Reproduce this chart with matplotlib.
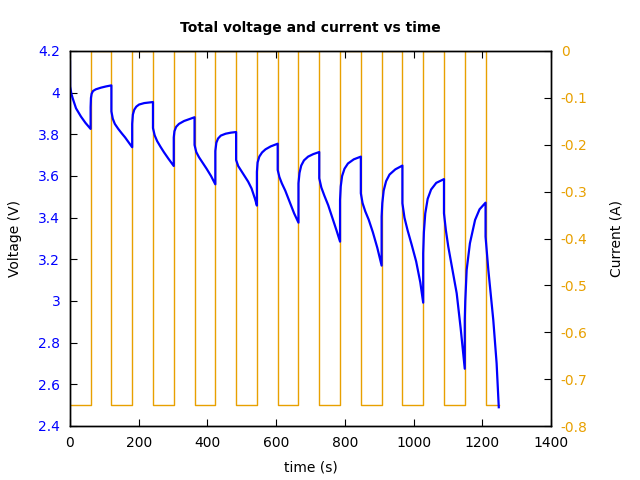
import matplotlib
matplotlib.use("Agg")
import matplotlib.pyplot as plt
from matplotlib.ticker import FuncFormatter

plt.rcParams['axes.unicode_minus'] = False
plt.rcParams['font.family'] = ['DejaVu Sans']

# Voltage (time s, volts)
volt_t = [0, 0.3, 4, 8, 17.5, 32, 45, 60,
          60, 61, 63, 67, 75, 90, 105, 120.5,
          120.5, 124.5, 130.5, 140.5, 150.5, 160.5, 170.5, 181,
          181, 183, 187, 193, 201, 216, 241.5,
          241.5, 246.5, 253.5, 263.5, 273.5, 286.5, 302,
          302, 304, 309, 317, 332, 347, 362.5,
          362.5, 367.5, 375.5, 387.5, 397.5, 410.5, 423,
          423, 426, 431, 439, 453, 468, 483.5,
          483.5, 489.5, 498.5, 508.5, 518.5, 528.5, 538.5, 544,
          544, 546, 551, 559, 569, 584, 604.5,
          604.5, 609.5, 616.5, 626.5, 639.5, 652.5, 665,
          665, 668, 673, 681, 693, 708, 725.5,
          725.5, 731.5, 740.5, 751.5, 763.5, 775.5, 786,
          786, 788, 792, 799, 809, 826, 846.5,
          846.5, 851.5, 859.5, 869.5, 881.5, 894.5, 907,
          907, 909, 913, 920, 930, 947, 967.5,
          967.5, 973.5, 982.5, 994.5, 1007.5, 1019.5, 1028,
          1028, 1030, 1034, 1041, 1051, 1066, 1088.5,
          1088.5, 1094, 1101, 1113, 1125.5, 1137, 1149,
          1149, 1150.5, 1154.5, 1164, 1179, 1192, 1209.5,
          1209.5, 1217.6, 1232, 1241.7, 1248]
volt_v = [4.15, 4.03, 3.995, 3.972, 3.925, 3.885, 3.855, 3.826,
          3.93, 3.975, 3.995, 4.008, 4.016, 4.024, 4.03, 4.035,
          3.91, 3.875, 3.85, 3.826, 3.805, 3.785, 3.762, 3.738,
          3.85, 3.895, 3.918, 3.933, 3.943, 3.95, 3.955,
          3.83, 3.795, 3.768, 3.74, 3.714, 3.683, 3.648,
          3.785, 3.815, 3.836, 3.85, 3.864, 3.873, 3.882,
          3.749, 3.715, 3.69, 3.66, 3.635, 3.6, 3.56,
          3.72, 3.76, 3.78, 3.794, 3.803, 3.808, 3.811,
          3.677, 3.648, 3.625, 3.6, 3.573, 3.54, 3.49, 3.458,
          3.62, 3.665, 3.693, 3.713, 3.728, 3.742, 3.755,
          3.629, 3.595, 3.565, 3.53, 3.475, 3.42, 3.376,
          3.565, 3.615, 3.65, 3.675, 3.693, 3.705, 3.715,
          3.589, 3.545, 3.505, 3.46, 3.4, 3.34, 3.285,
          3.485, 3.55, 3.6, 3.635, 3.66, 3.68, 3.693,
          3.517, 3.47, 3.43, 3.39, 3.33, 3.255, 3.17,
          3.405, 3.47, 3.53, 3.575, 3.607, 3.632, 3.65,
          3.469, 3.4, 3.34, 3.27, 3.19, 3.09, 2.992,
          3.229, 3.33, 3.42, 3.49, 3.535, 3.567, 3.585,
          3.421, 3.34, 3.261, 3.15, 3.037, 2.87, 2.675,
          2.909, 3.0, 3.149, 3.277, 3.389, 3.44, 3.472,
          3.309, 3.149, 2.909, 2.701, 2.49]

# Current steps (time s, amps)
curr_t = [0, 60, 120.5, 181, 241.5, 302, 362.5, 423, 483.5, 544, 604.5,
          665, 725.5, 786, 846.5, 907, 967.5, 1028, 1088.5, 1149, 1209.5, 1248]
curr_i = [-0.755, 0, -0.755, 0, -0.755, 0, -0.755, 0, -0.755, 0, -0.755, 0,
          -0.755, 0, -0.755, 0, -0.755, 0, -0.755, 0, -0.755, -0.755]

blue = '#0000ff'
orange = '#e8a000'

fig = plt.figure(figsize=(6.4, 4.8), dpi=100)
ax = fig.add_axes([70/640, 1-426/480, 481/640, 375/480])
ax2 = ax.twinx()

ax2.plot(curr_t, curr_i, drawstyle='steps-post', color=orange, lw=1.0)
ax.plot(volt_t, volt_v, color=blue, lw=1.6)

ax.set_zorder(ax2.get_zorder() + 1)
ax.patch.set_visible(False)

ax.set_xlim(0, 1400)
ax.set_ylim(2.4, 4.2)
ax2.set_ylim(-0.8, 0)
ax.set_xticks(range(0, 1401, 200))
ax.set_yticks([2.4, 2.6, 2.8, 3.0, 3.2, 3.4, 3.6, 3.8, 4.0, 4.2])
ax2.set_yticks([-0.8, -0.7, -0.6, -0.5, -0.4, -0.3, -0.2, -0.1, 0])
fmt = FuncFormatter(lambda v, p: ('%g' % round(v, 3)))
ax.yaxis.set_major_formatter(fmt)
ax2.yaxis.set_major_formatter(fmt)

ax.tick_params(axis='x', direction='in', top=True, length=5, pad=7, labelsize=10)
ax.tick_params(axis='y', direction='in', length=5, pad=7, labelsize=10, labelcolor=blue)
ax2.tick_params(axis='y', direction='in', length=5, pad=7, labelsize=10, labelcolor=orange)

for a in (ax, ax2):
    for s in a.spines.values():
        s.set_linewidth(1.0)
        s.set_color('black')

ax.set_xlabel('time (s)', fontsize=10, labelpad=8)
ax.set_ylabel('Voltage (V)', fontsize=10, labelpad=12)
ax2.set_ylabel('Current (A)', fontsize=10, labelpad=16)
ax.set_title('Total voltage and current vs time', fontsize=10, fontweight='bold', pad=14)

fig.savefig('out.png', dpi=100)
